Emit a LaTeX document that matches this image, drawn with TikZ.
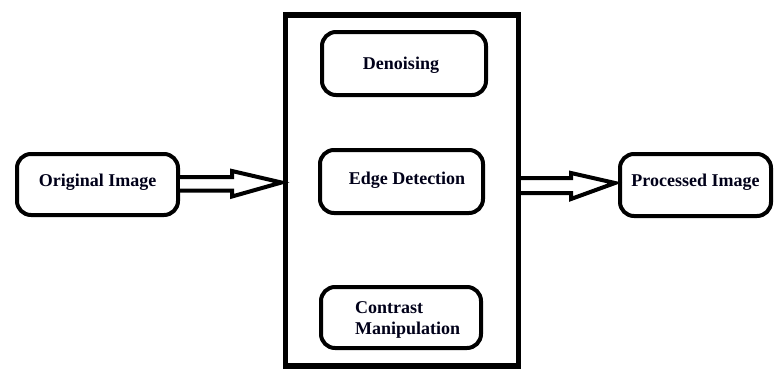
\documentclass[tikz,border=0pt]{standalone}
\usepackage{fontspec}
\setmainfont{Liberation Serif}[BoldFont={Liberation Serif Bold}]
\newfontfamily\labelfont{Liberation Serif Bold}
\usetikzlibrary{calc}
\begin{document}
\begin{tikzpicture}[x=1pt,y=-1pt,
  rbox/.style={draw=black, line width=4pt, rounded corners=14pt, fill=white,
    inner sep=0pt, minimum width=#1},
  rbox/.default=161pt,
  txt/.style={font=\labelfont\fontsize{18}{20.5}\selectfont, inner sep=0pt, text=black!90!blue},
  blockarrow/.style={draw=black, line width=4pt, fill=white, line join=miter, miter limit=10}]
\useasboundingbox (0,0) rectangle (775,370);

% processing stage frame
\node[draw=black, line width=5.5pt, minimum width=233pt, minimum height=351pt, inner sep=0pt]
  (stage) at (401.75,190.5) {};

% rounded boxes
\node[rbox=161pt, minimum height=61pt] (orig) at (97.5,184.5) {};
\node[rbox=151pt, minimum height=62pt] (proc) at (695.5,185) {};
\node[rbox=164pt, minimum height=63pt] (den) at (404,63.5) {};
\node[rbox=163pt, minimum height=63pt] (edge) at (401.5,181.5) {};
\node[rbox=160pt, minimum height=61pt] (con) at (401,317.5) {};

% labels
\node[txt] (origt) at ($(orig.center)+(0,-2)$) {Original Image};
\node[txt] (proct) at ($(proc.center)+(0,-3)$) {Processed Image};
\node[txt] (dent) at ($(den.center)+(-3,1.5)$) {Denoising};
\node[txt] (edget) at ($(edge.center)+(5.5,-1.5)$) {Edge Detection};
\node[txt, align=left, anchor=west]
  (cont) at (355,320) {Contrast\\Manipulation};

% hollow block arrows
\coordinate (a1s) at (orig.east);
\coordinate (a1t) at (stage.west |- orig.east);
\draw[blockarrow]
  ($(a1s)+(0,-7.5)$) -- ($(a1s)+(52,-7.5)$) -- ($(a1s)+(52,-13.5)$) -- ($(a1t)+(-1,-2)$)
  -- ($(a1s)+(52,12)$) -- ($(a1s)+(52,6)$) -- ($(a1s)+(0,6)$);

\coordinate (a2s) at (stage.east |- proc.west);
\coordinate (a2t) at (proc.west);
\draw[blockarrow]
  ($(a2s)+(0,-7)$) -- ($(a2s)+(50,-7)$) -- ($(a2s)+(50,-12)$) -- ($(a2t)+(-3,-2)$)
  -- ($(a2s)+(50,14)$) -- ($(a2s)+(50,8)$) -- ($(a2s)+(0,8)$);
\end{tikzpicture}
\end{document}
